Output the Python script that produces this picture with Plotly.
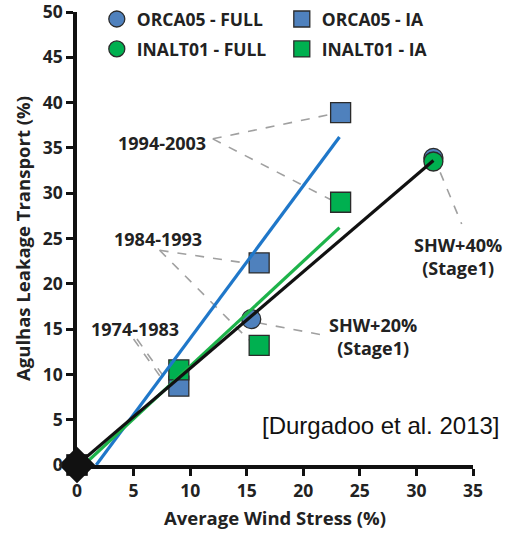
import plotly.graph_objects as go

# model runs: wind stress change (%) vs leakage transport (%)
orca_full_x = [0, 15.4, 31.5]
orca_full_y = [0, 16.1, 33.9]
inalt_full_x = [0, 31.5]
inalt_full_y = [0, 33.5]
orca_ia_x = [0, 9.0, 16.1, 23.3]
orca_ia_y = [0, 8.7, 22.3, 38.9]
inalt_ia_x = [0, 9.0, 16.1, 23.3]
inalt_ia_y = [0, 10.5, 13.2, 29.0]

# linear fits
orca_fit_x = [1.7, 23.2]
orca_fit_y = [0, 36.2]
inalt_fit_x = [0.6, 23.2]
inalt_fit_y = [0, 26.2]
full_fit_x = [0, 31.5]
full_fit_y = [0, 33.6]

# label text and leader lines (data coords)
labels = ["1994-2003", "1984-1993", "1974-1983", "SHW+20%<br>(Stage1)", "SHW+40%<br>(Stage1)"]
label_x = [7.5, 7.2, 5.1, 26.2, 33.7]
label_y = [35.5, 24.9, 15.0, 14.2, 23.0]
leaders = [
    (12.0, 36.0, 22.4, 38.7),
    (12.0, 36.0, 22.4, 29.3),
    (7.3, 23.7, 15.4, 22.2),
    (7.3, 23.7, 15.2, 13.8),
    (5.0, 13.9, 7.4, 9.7),
    (5.3, 13.9, 7.7, 9.7),
    (16.0, 15.7, 21.5, 14.4),
    (32.1, 32.3, 34.0, 26.6),
]

BLUE = "#4F81BD"
GREEN = "#00B050"
EDGE = "#2b2b2b"
FONT = "Open Sans"
TXT = "#222222"

fig = go.Figure()

fig.add_trace(go.Scatter(x=orca_full_x, y=orca_full_y, mode="markers", name="ORCA05 - FULL", cliponaxis=False,
                         legend="legend",
                         marker=dict(symbol="circle", size=19, color=BLUE, line=dict(color=EDGE, width=1.3))))
fig.add_trace(go.Scatter(x=orca_ia_x, y=orca_ia_y, mode="markers", name="ORCA05 - IA", cliponaxis=False,
                         legend="legend",
                         marker=dict(symbol="square", size=20, color=BLUE, line=dict(color=EDGE, width=1.3))))
fig.add_trace(go.Scatter(x=inalt_full_x, y=inalt_full_y, mode="markers", name="INALT01 - FULL", cliponaxis=False,
                         legend="legend2",
                         marker=dict(symbol="circle", size=19, color=GREEN, line=dict(color=EDGE, width=1.3))))
fig.add_trace(go.Scatter(x=inalt_ia_x, y=inalt_ia_y, mode="markers", name="INALT01 - IA", cliponaxis=False,
                         legend="legend2",
                         marker=dict(symbol="square", size=20, color=GREEN, line=dict(color=EDGE, width=1.3))))

for fx, fy, col in [(orca_fit_x, orca_fit_y, "#1f77c9"), (inalt_fit_x, inalt_fit_y, "#1db34a"),
                    (full_fit_x, full_fit_y, "#111111")]:
    fig.add_trace(go.Scatter(x=fx, y=fy, mode="lines", showlegend=False, cliponaxis=False,
                             line=dict(color=col, width=3.2)))

# origin control point
fig.add_trace(go.Scatter(x=[0], y=[0], mode="markers", showlegend=False, cliponaxis=False,
                         marker=dict(symbol="square", size=20, color="#111111")))
fig.add_trace(go.Scatter(x=[0], y=[0], mode="markers", showlegend=False, cliponaxis=False,
                         marker=dict(symbol="diamond", size=28, color="#111111")))

for x0, y0, x1, y1 in leaders:
    fig.add_shape(type="line", x0=x0, y0=y0, x1=x1, y1=y1, xref="x", yref="y",
                  line=dict(color="#a0a0a0", width=1.6, dash="dash"), layer="below")

for t, x, y in zip(labels, label_x, label_y):
    fig.add_annotation(x=x, y=y, text=t, showarrow=False,
                       font=dict(family=FONT, size=18, color=TXT, weight="bold"))

fig.add_annotation(x=1.073, y=4.4, xref="paper", yref="y", text="[Durgadoo et al. 2013]",
                   showarrow=False, xanchor="right",
                   font=dict(family="Liberation Sans, Arial", size=24, color="#111111"))

axis_common = dict(showline=True, linecolor="#111111", linewidth=3.5, ticks="outside",
                   ticklen=7, tickwidth=3, tickcolor="#111111", showgrid=False, zeroline=False,
                   automargin=False, ticklabeloverflow="allow",
                   tickfont=dict(family=FONT, size=17.5, color=TXT, weight="bold"))

fig.update_xaxes(range=[0, 35], dtick=5, **axis_common,
                 title=dict(text="Average Wind Stress (%)", standoff=12,
                            font=dict(family=FONT, size=18.5, color=TXT, weight="bold")))
fig.update_yaxes(range=[0, 50], dtick=5, **axis_common,
                 title=dict(text="Agulhas Leakage Transport (%)", standoff=8,
                            font=dict(family=FONT, size=18.5, color=TXT, weight="bold")))

legend_style = dict(orientation="h", xanchor="left", yanchor="top",
                    entrywidth=140, bgcolor="rgba(0,0,0,0)",
                    font=dict(family=FONT, size=17.5, color=TXT, weight="bold"))

fig.update_layout(
    width=507, height=537,
    margin=dict(l=77, r=34, t=12, b=72, autoexpand=False),
    plot_bgcolor="white", paper_bgcolor="white",
    legend=dict(x=0.05, y=1.024, **legend_style),
    legend2=dict(x=0.05, y=0.958, **legend_style),
)

fig.write_html("out.html", config={"displayModeBar": False},
               post_script="document.body.style.margin='0px';")
